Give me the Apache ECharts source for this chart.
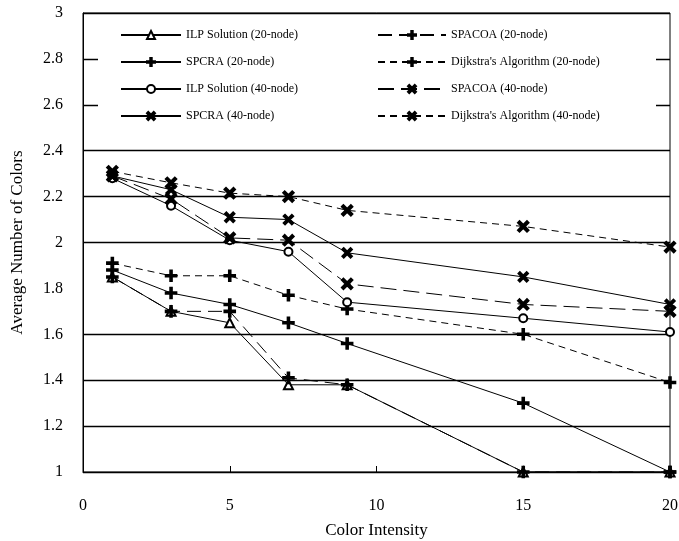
<!DOCTYPE html>
<html>
<head>
<meta charset="utf-8">
<script src="https://cdn.jsdelivr.net/npm/echarts@6/dist/echarts.min.js"></script>
<style>
  html, body { margin: 0; padding: 0; background: #fff; }
  #main { width: 679px; height: 541px; }
</style>
</head>
<body>
<div id="main"></div>
<script>
// color intensity on the x axis
var intensity = [1, 3, 5, 7, 9, 15, 20]

// average number of colors
var ilp20 = [1.85, 1.70, 1.65, 1.38, 1.38, 1.00, 1.00]
var spacoa20 = [1.85, 1.70, 1.70, 1.41, 1.38, 1.00, 1.00]
var spcra20 = [1.88, 1.78, 1.73, 1.65, 1.56, 1.30, 1.00]
var dijkstra20 = [1.91, 1.855, 1.855, 1.77, 1.71, 1.60, 1.39]
var ilp40 = [2.28, 2.16, 2.01, 1.96, 1.74, 1.67, 1.61]
var spacoa40 = [2.29, 2.19, 2.02, 2.01, 1.82, 1.73, 1.70]
var spcra40 = [2.29, 2.23, 2.11, 2.10, 1.955, 1.85, 1.73]
var dijkstra40 = [2.31, 2.26, 2.215, 2.20, 2.14, 2.07, 1.98]

var FONT = '"Liberation Serif", "DejaVu Serif", serif'
var PLUS = 'path://M4.1 0H5.9V4.1H10V5.9H5.9V10H4.1V5.9H0V4.1H4.1Z'
var CROSS = 'path://M0 1.6L1.6 0L5 3.4L8.4 0L10 1.6L6.6 5L10 8.4L8.4 10L5 6.6L1.6 10L0 8.4L3.4 5Z'

function pairs(ys) {
  return intensity.map(function (x, i) { return [x, ys[i]] })
}

function line(name, ys, symbol, size, dash) {
  return {
    name: name,
    type: 'line',
    data: pairs(ys),
    symbol: symbol,
    symbolSize: size,
    showAllSymbol: true,
    animation: false,
    itemStyle: { color: '#000', borderColor: '#000', borderWidth: 1.6 },
    lineStyle: { color: '#000', width: 1, type: dash || 'solid' }
  }
}

var chart = echarts.init(document.getElementById('main'))
chart.setOption({
  backgroundColor: '#fff',
  animation: false,
  grid: {
    left: 83, right: 9, top: 13, bottom: 69,
    outerBoundsMode: 'none',
    containLabel: false,
    show: true, borderColor: '#000', borderWidth: 1
  },
  graphic: [{
    type: 'rect',
    z: 5,
    shape: { x: 98, y: 15, width: 558, height: 133 },
    style: { fill: '#fff' }
  }],
  legend: [{
    orient: 'vertical',
    left: 115, top: 24,
    z: 10,
    itemWidth: 60, itemHeight: 10, itemGap: 15,
    textStyle: { fontFamily: FONT, fontSize: 12, color: '#000' },
    data: ['ILP Solution (20-node)', 'SPCRA (20-node)', 'ILP Solution (40-node)', 'SPCRA (40-node)']
  }, {
    orient: 'vertical',
    left: 372, top: 24,
    z: 10,
    itemWidth: 68, itemHeight: 10, itemGap: 15,
    textStyle: { fontFamily: FONT, fontSize: 12, color: '#000' },
    data: ['SPACOA (20-node)', "Dijkstra's Algorithm (20-node)", 'SPACOA (40-node)', "Dijkstra's Algorithm (40-node)"]
  }],
  xAxis: {
    type: 'value',
    min: 0, max: 20, interval: 5,
    name: 'Color Intensity',
    nameLocation: 'middle',
    nameGap: 50,
    nameTextStyle: { fontFamily: FONT, fontSize: 17, color: '#000' },
    axisLine: { lineStyle: { color: '#000', width: 1 } },
    axisTick: { inside: true, length: 6, lineStyle: { color: '#000' } },
    axisLabel: { margin: 26, fontFamily: FONT, fontSize: 16, color: '#000' },
    splitLine: { show: false }
  },
  yAxis: {
    type: 'value',
    min: 1, max: 3, interval: 0.2,
    name: 'Average Number of Colors',
    nameLocation: 'middle',
    nameGap: 57,
    nameTextStyle: { fontFamily: FONT, fontSize: 17, color: '#000' },
    axisLine: { lineStyle: { color: '#000', width: 1 } },
    axisTick: { show: false },
    axisLabel: {
      margin: 20, fontFamily: FONT, fontSize: 16, color: '#000',
      formatter: function (v) { return String(Math.round(v * 10) / 10) }
    },
    splitLine: {
      show: true,
      lineStyle: {
        width: 1.3,
        color: ['#000', '#000', '#000', '#000', 'rgba(0,0,0,0)', '#000', '#000', '#000', '#000', '#000', '#000']
      }
    }
  },
  series: [
    line('ILP Solution (20-node)', ilp20, 'emptyTriangle', 9),
    line('SPACOA (20-node)', spacoa20, PLUS, 11, [14, 7]),
    line('SPCRA (20-node)', spcra20, PLUS, 11),
    line("Dijkstra's Algorithm (20-node)", dijkstra20, PLUS, 11, [7, 5]),
    line('ILP Solution (40-node)', ilp40, 'emptyCircle', 8),
    line('SPACOA (40-node)', spacoa40, CROSS, 11, [16, 7]),
    line('SPCRA (40-node)', spcra40, CROSS, 10),
    line("Dijkstra's Algorithm (40-node)", dijkstra40, CROSS, 11, [7, 5])
  ]
})
</script>
</body>
</html>
